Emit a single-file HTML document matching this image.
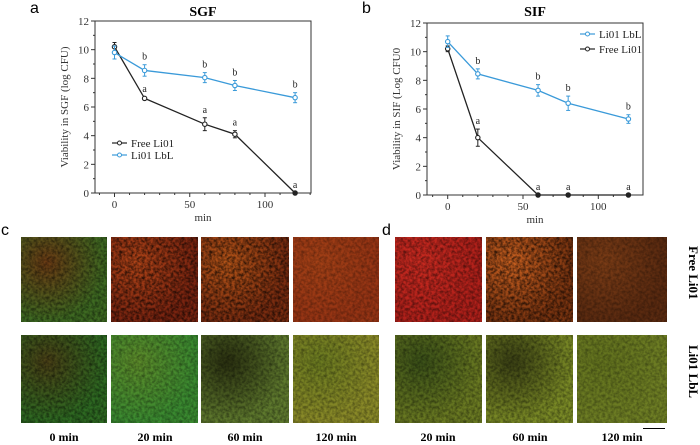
<!DOCTYPE html>
<html><head><meta charset="utf-8"><style>
body{margin:0;background:#fff;width:700px;height:443px;overflow:hidden;position:relative;font-family:"Liberation Serif",serif}
.img{position:absolute}
.lab{position:absolute;font:bold 12px "Liberation Serif",serif;text-align:center;width:90px}
.pl{position:absolute;font:16px "Liberation Sans",sans-serif}
.rl{position:absolute;font:bold 13px "Liberation Serif",serif;transform:rotate(90deg);transform-origin:left top;white-space:nowrap}
</style></head><body>
<svg id="chart" width="700" height="225" style="position:absolute;left:0;top:0"></svg>
<svg width="0" height="0" style="position:absolute"><filter id="tex"><feTurbulence type="fractalNoise" baseFrequency="0.35" numOctaves="2" seed="3"/><feColorMatrix values="0 0 0 0 0  0 0 0 0 0  0 0 0 0 0  0 0 0 -1.6 1.1"/></filter></svg>
<div class="pl" style="left:1px;top:222px">c</div>
<div class="pl" style="left:382px;top:222px">d</div>
<div id="imgs"></div>
<div class="lab" style="left:19px;top:430px">0 min</div>
<div class="lab" style="left:110px;top:430px">20 min</div>
<div class="lab" style="left:200px;top:430px">60 min</div>
<div class="lab" style="left:291px;top:430px">120 min</div>
<div class="lab" style="left:393px;top:430px">20 min</div>
<div class="lab" style="left:485px;top:430px">60 min</div>
<div class="lab" style="left:577px;top:430px">120 min</div>
<div class="rl" style="left:701px;top:246px">Free Li01</div>
<div class="rl" style="left:701px;top:345px">Li01 LbL</div>
<div style="position:absolute;left:643px;top:428px;width:22px;height:1px;background:#000"></div>
<script>
const times=[0,20,60,80,120];
const aFree=[10.2,6.6,4.8,4.1,0], aFreeErr=[0.3,0.1,0.45,0.25,0];
const aLbl=[9.8,8.55,8.05,7.5,6.65], aLblErr=[0.45,0.4,0.35,0.35,0.35];
const bLbl=[10.7,8.45,7.3,6.4,5.3], bLblErr=[0.4,0.35,0.4,0.5,0.3];
const bFree=[10.2,4.0,0,0,0], bFreeErr=[0.2,0.6,0,0,0];
const yTicks=[0,2,4,6,8,10,12], xTicks=[0,50,100];
const NS="http://www.w3.org/2000/svg";
const svg=document.getElementById('chart');
function mk(t,a,p){const e=document.createElementNS(NS,t);for(const k in a)e.setAttribute(k,a[k]);(p||svg).appendChild(e);return e;}
function panel(o){
 const g=mk('g',{});
 
 
 const X=v=>o.x0+(v)*(o.x100-o.x0)/100, Y=v=>o.bot-(v)*(o.bot-o.top)/12;
 mk('rect',{x:o.L,y:o.top,width:o.R-o.L,height:o.bot-o.top,fill:'none',stroke:'#333','stroke-width':1},g);
 yTicks.forEach(t=>{mk('line',{x1:o.L-4,x2:o.L,y1:Y(t),y2:Y(t),stroke:'#333'},g);
  const tx=mk('text',{x:o.L-6,y:Y(t)+4,'text-anchor':'end','font-size':11,fill:'#333'},g);tx.textContent=t;
  if(t<12) mk('line',{x1:o.L-2,x2:o.L,y1:Y(t+1),y2:Y(t+1),stroke:'#333'},g);});
 for(let v=-10;v<=130;v+=10){const x=X(v);if(x<o.L||x>o.R)continue;const maj=v%50==0;mk('line',{x1:x,x2:x,y1:o.bot,y2:o.bot+(maj?4:2),stroke:'#333'},g);}
 xTicks.forEach(t=>{const tx=mk('text',{x:X(t),y:o.bot+15,'text-anchor':'middle','font-size':11,fill:'#333'},g);tx.textContent=t;});
 let tx=mk('text',{x:(o.L+o.R)/2,y:o.bot+28,'text-anchor':'middle','font-size':11,fill:'#333'},g);tx.textContent='min';
 tx=mk('text',{x:0,y:0,'text-anchor':'middle','font-size':11,fill:'#333',transform:`translate(${o.L-27},${(o.top+o.bot)/2}) rotate(-90)`},g);tx.textContent=o.ytitle;
 tx=mk('text',{x:(o.L+o.R)/2,y:16,'text-anchor':'middle','font-size':14,'font-weight':'bold',fill:'#000'},g);tx.textContent=o.title;
 tx=mk('text',{x:o.pl,y:13,'font-size':16,'font-family':'Liberation Sans, sans-serif',fill:'#000'},g);tx.textContent=o.plabel;
 o.series.forEach(s=>{
  const sg=mk('g',{},g);
  
  
  mk('polyline',{points:times.map((t,i)=>X(t)+','+Y(s.v[i])).join(' '),fill:'none',stroke:s.c,'stroke-width':1.3},sg);
  times.forEach((t,i)=>{const x=X(t),e=s.e[i];
   if(e>0){mk('line',{x1:x,x2:x,y1:Y(s.v[i]+e),y2:Y(s.v[i]-e),stroke:s.c},sg);
    [s.v[i]+e,s.v[i]-e].forEach(v=>mk('line',{x1:x-2,x2:x+2,y1:Y(v),y2:Y(v),stroke:s.c},sg));}
   const c=mk('circle',{cx:x,cy:Y(s.v[i]),r:2.2,fill:s.v[i]==0?s.c:'#fff',stroke:s.c,'stroke-width':1.1},sg);
   
   if(i>0){const l=mk('text',{x:x,y:Y(s.v[i]+e)-5,'text-anchor':'middle','font-size':10,fill:'#222'},sg);l.textContent=s.l;}
  });
 });
 o.legend.forEach((s,i)=>{const y=o.ly+i*o.ldy;
  const lg=mk('g',{},g);
  
  
  mk('line',{x1:o.lx,x2:o.lx+15,y1:y,y2:y,stroke:s.c,'stroke-width':1.2},lg);
  mk('circle',{cx:o.lx+7.5,cy:y,r:2,fill:'#fff',stroke:s.c},lg);
  const t=mk('text',{x:o.lx+19,y:y+4,'font-size':11,fill:'#222'},lg);t.textContent=s.n;});
}
const blue='#3a9ad9', blk='#222';
panel({name:'chart-sgf',L:95,R:311,top:21,bot:193,x0:114.5,x100:265,ytitle:'Viability in SGF (log CFU)',title:'SGF',plabel:'a',pl:30,
 series:[{name:'series-free-li01',v:aFree,e:aFreeErr,c:blk,l:'a'},{name:'series-li01-lbl',v:aLbl,e:aLblErr,c:blue,l:'b'}],
 legend:[{n:'Free Li01',c:blk},{n:'Li01 LbL',c:blue}],lx:112,ly:143,ldy:12});
panel({name:'chart-sif',L:427,R:643,top:23,bot:195,x0:447.7,x100:598.3,ytitle:'Viability in SIF (Log CFU0',title:'SIF',plabel:'b',pl:362,
 series:[{name:'series-free-li01',v:bFree,e:bFreeErr,c:blk,l:'a'},{name:'series-li01-lbl',v:bLbl,e:bLblErr,c:blue,l:'b'}],
 legend:[{n:'Li01 LbL',c:blue},{n:'Free Li01',c:blk}],lx:580,ly:34,ldy:15});
const imgs=[
 [21,237,86,85,'#3e6a22','#6a3a14','img-c-free-0min',0.6],[111,237,87,85,'#7a2410','#b04418','img-c-free-20min',0.85],[201,237,88,85,'#7a2c10','#b45418','img-c-free-60min',0.85],[293,237,86,85,'#963414','#a24016','img-c-free-120min',0.4],
 [21,335,86,88,'#2e6a22','#4a4016','img-c-lbl-0min',0.6],[111,335,87,88,'#3a8a30','#5c8a2a','img-c-lbl-20min',0.45],[201,335,88,88,'#5f7a2e','#2a3010','img-c-lbl-60min',0.5],[293,335,86,88,'#8a8a28','#6a7a20','img-c-lbl-120min',0.45],
 [395,237,87,85,'#b0201a','#c82a20','img-d-free-20min',0.6],[486,237,87,85,'#7a3410','#c86020','img-d-free-60min',0.85],[577,237,90,85,'#5a2a10','#7a3c16','img-d-free-120min',0.4],
 [395,335,87,88,'#6a7a22','#3a5018','img-d-lbl-20min',0.5],[486,335,87,88,'#7a8a26','#3a4014','img-d-lbl-60min',0.5],[577,335,90,88,'#6e7e24','#62721e','img-d-lbl-120min',0.4]];
const box=document.getElementById('imgs');
imgs.forEach(m=>{const d=document.createElement('div');d.className='img';
 
 
 d.style.cssText=`left:${m[0]}px;top:${m[1]}px;width:${m[2]}px;height:${m[3]}px;background:radial-gradient(circle at 30% 30%,${m[5]},${m[4]} 70%);overflow:hidden`;
 d.innerHTML=`<svg width="${m[2]}" height="${m[3]}"><rect width="100%" height="100%" fill="#000" filter="url(#tex)" opacity="${m[7]}"/></svg>`;
 box.appendChild(d);});
</script>
</body></html>
